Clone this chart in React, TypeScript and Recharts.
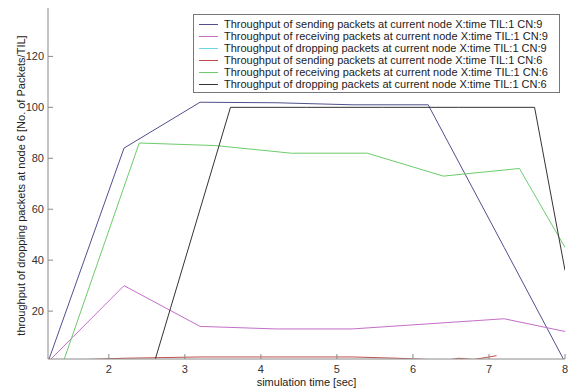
import React from 'react';
import { LineChart, Line, XAxis, YAxis, Legend } from 'recharts';

// simulation time points (sec) and throughput values per trace
const sendTime9 = [1.2, 2.2, 3.2, 4.2, 5.2, 6.2, 7.2, 8];
const sendVal9 = [0, 84, 102, 101.8, 101, 101, 45, 0];

const recvTime9 = [1.2, 2.2, 3.2, 4.2, 5.2, 6.2, 7.2, 8];
const recvVal9 = [0, 30, 14, 13, 13, 15, 17, 12];

const dropTime9 = [1.2, 2.2, 3.2, 4.2, 5.2, 6.2, 7.2, 8];
const dropVal9 = [0, 0, 0, 0, 0, 0, 0, 0];

const sendTime6 = [1.4, 1.7, 2.2, 3.2, 4.2, 5.2, 5.8, 6.2, 6.4, 6.6, 6.8, 7.1];
const sendVal6 = [0, 1, 1.5, 2, 2, 2, 1.5, 1, 0.5, 1.5, 1, 2.5];

const recvTime6 = [1.4, 2.4, 3.4, 4.4, 5.4, 6.4, 7.4, 8];
const recvVal6 = [0, 86, 85, 82, 82, 73, 76, 45];

const dropTime6 = [1.6, 2.6, 3.6, 4.6, 5.6, 6.6, 7.6, 8];
const dropVal6 = [0, 0, 100, 100, 100, 100, 100, 36];

const xTicks = [2, 3, 4, 5, 6, 7, 8];
const yTicks = [20, 40, 60, 80, 100, 120];

const traceNames = [
  'Throughput of sending packets at current node X:time TIL:1 CN:9',
  'Throughput of receiving packets at current node X:time TIL:1 CN:9',
  'Throughput of dropping packets at current node X:time TIL:1 CN:9',
  'Throughput of sending packets at current node X:time TIL:1 CN:6',
  'Throughput of receiving packets at current node X:time TIL:1 CN:6',
  'Throughput of dropping packets at current node X:time TIL:1 CN:6',
];
const traceColors = ['#50508e', '#c46ec8', '#6fd4e4', '#c0504a', '#6ccc6c', '#333333'];

const zip = (t: number[], v: number[]) => t.map((x, i) => ({ t: x, v: v[i] }));

const traces = [
  zip(sendTime9, sendVal9),
  zip(recvTime9, recvVal9),
  zip(dropTime9, dropVal9),
  zip(sendTime6, sendVal6),
  zip(recvTime6, recvVal6),
  zip(dropTime6, dropVal6),
];

const AXIS = '#8a8a8a';
const FONT = '"Liberation Sans", Arial, sans-serif';

// ticks point into the plot, labels sit outside
const XTick = ({ x, y, payload }: any) => (
  <g>
    <line x1={x} y1={y} x2={x} y2={y - 5} stroke={AXIS} />
    <text x={x} y={y + 14} textAnchor="middle" fontSize={11} fill="#333">
      {payload.value}
    </text>
  </g>
);

const YTick = ({ x, y, payload }: any) => (
  <g>
    <line x1={x} y1={y} x2={x + 5} y2={y} stroke={AXIS} />
    <text x={x - 4} y={y + 4} textAnchor="end" fontSize={11} fill="#333">
      {payload.value}
    </text>
  </g>
);

const YTitle = ({ viewBox }: any) => {
  const cx = viewBox.x + 13;
  const cy = viewBox.y + viewBox.height / 2 + 2;
  return (
    <text
      transform={`translate(${cx},${cy}) rotate(-90)`}
      textAnchor="middle"
      dominantBaseline="central"
      fontSize={11}
      fill="#222"
    >
      throughput of dropping packets at node 6 [No. of Packets/TIL]
    </text>
  );
};

const LegendBox = () => (
  <div
    style={{
      border: '1px solid #777',
      background: '#fff',
      padding: '3px 4px 2px 5px',
      fontSize: 11,
      color: '#222',
    }}
  >
    {traceNames.map((name, i) => (
      <div key={name} style={{ display: 'flex', alignItems: 'center', height: 12 }}>
        <div style={{ width: 19, height: 0, borderTop: `1px solid ${traceColors[i]}`, marginRight: 6 }} />
        <span style={{ whiteSpace: 'nowrap', lineHeight: '12px' }}>{name}</span>
      </div>
    ))}
  </div>
);

export default function App() {
  return (
    <div style={{ position: 'absolute', left: 0, top: 0, width: 571, height: 392, background: '#fff', fontFamily: FONT }}>
      <LineChart width={571} height={392} margin={{ top: 8, right: 6, bottom: 3, left: 8 }}>
        <XAxis
          dataKey="t"
          type="number"
          domain={[1.2, 8]}
          ticks={xTicks}
          allowDataOverflow
          stroke={AXIS}
          tickLine={false}
          tickSize={0}
          tickMargin={0}
          tick={<XTick />}
          height={30}
          label={{ value: 'simulation time [sec]', position: 'insideBottom', offset: 3, fontSize: 11, fill: '#222' }}
        />
        <YAxis
          type="number"
          domain={[1.2, 139]}
          ticks={yTicks}
          allowDataOverflow
          stroke={AXIS}
          tickLine={false}
          tickSize={0}
          tickMargin={0}
          tick={<YTick />}
          width={40}
          label={{ content: <YTitle /> }}
        />
        <Legend
          layout="horizontal"
          align="center"
          verticalAlign="middle"
          content={<LegendBox />}
          wrapperStyle={{ left: 193, top: 14, width: 367, right: 'auto', bottom: 'auto' }}
        />
        {traces.map((pts, i) => (
          <Line
            key={traceNames[i]}
            data={pts}
            dataKey="v"
            name={traceNames[i]}
            type="linear"
            stroke={traceColors[i]}
            strokeWidth={1}
            dot={false}
            activeDot={false}
            isAnimationActive={false}
          />
        ))}
      </LineChart>
    </div>
  );
}
